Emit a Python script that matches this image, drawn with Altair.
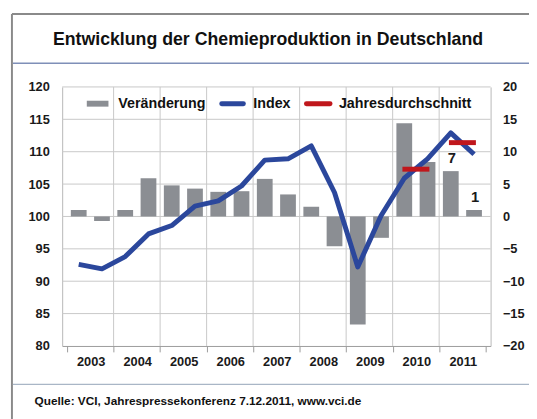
import altair as alt
import pandas as pd

# ---- data ----
years = [2003, 2004, 2005, 2006, 2007, 2008, 2009, 2010, 2011]
halves = ["H1", "H2"]
veraenderung = [1.0, -0.7, 1.0, 5.9, 4.8, 4.3, 3.8, 3.9, 5.8, 3.4, 1.5, -4.6,
                -16.7, -3.3, 14.4, 8.4, 7.0, 1.0]
index_vals = [92.6, 91.9, 93.8, 97.3, 98.6, 101.6, 102.4, 104.7, 108.7, 108.9,
              110.9, 103.7, 92.2, 100.1, 105.9, 108.9, 112.9, 109.6]
avg_years = [2010, 2011]
avg_vals = [107.3, 111.4]
label_years = [2011, 2011]
label_halves = ["H1", "H2"]
label_texts = ["7", "1"]
left_ticks = [80, 85, 90, 95, 100, 105, 110, 115, 120]
right_ticks = [-20, -15, -10, -5, 0, 5, 10, 15, 20]
year_bounds = [2003, 2004, 2005, 2006, 2007, 2008, 2009, 2010, 2011, 2012]

FONT = "Liberation Sans"
W, H = 435, 263

rows = []
i = 0
for y in years:
    for h in halves:
        rows.append({"year": y, "half": h, "pos": y + (0.25 if h == "H1" else 0.75),
                     "chg": veraenderung[i], "idx": index_vals[i]})
        i += 1
df = pd.DataFrame(rows)
avg_df = pd.DataFrame({"year": avg_years, "val": avg_vals})
avg_df["x1"] = avg_df["year"] + 0.21
avg_df["x2"] = avg_df["year"] + 0.79
lab_df = df.merge(pd.DataFrame({"year": label_years, "half": label_halves, "txt": label_texts}),
                  on=["year", "half"])
hgrid_df = pd.DataFrame({"v": [t for t in left_ticks if t > 80]})
vgrid_df = pd.DataFrame({"b": year_bounds[1:-1]})

xscale = alt.Scale(domain=[2003, 2012], nice=False, zero=False)
x_axis = alt.Axis(values=year_bounds, format="d",
                  labelExpr="datum.value == 2012 ? '' : datum.label",
                  labelOffset=24, title=None, grid=False,
                  domainColor="#9a9a9a", tickColor="#9a9a9a", tickSize=6,
                  labelFont=FONT, labelFontSize=13, labelFontWeight="bold",
                  labelColor="#1a1a1a", labelPadding=4, labelOverlap=False)

left_scale = alt.Scale(domain=[80, 120], nice=False, zero=False)
right_scale = alt.Scale(domain=[-20, 20], nice=False, zero=False)

left_axis = alt.Axis(orient="left", values=left_ticks, title=None,
                     grid=False, domainColor="#b8b8b8", ticks=False, labelPadding=13,
                     labelFont=FONT, labelFontSize=13, labelFontWeight="bold",
                     labelColor="#1a1a1a", labelOverlap=False)
right_axis = alt.Axis(orient="right", values=right_ticks, title=None,
                      grid=False, domainColor="#b8b8b8", ticks=False, labelPadding=12,
                      labelFont=FONT, labelFontSize=13, labelFontWeight="bold",
                      labelColor="#1a1a1a", labelOverlap=False)

hgrid = alt.Chart(hgrid_df).mark_rule(color="#c8c8c8", strokeWidth=1).encode(
    y=alt.Y("v:Q", scale=left_scale, axis=None),
    x=alt.value(0), x2=alt.value(W),
)
vgrid = alt.Chart(vgrid_df).mark_rule(color="#c8c8c8", strokeWidth=1).encode(
    x=alt.X("b:Q", scale=xscale, axis=x_axis),
    y=alt.value(0), y2=alt.value(H),
)
line = alt.Chart(df).mark_line(color="#2b479c", strokeWidth=5, strokeJoin="round").encode(
    x=alt.X("pos:Q", scale=xscale, axis=x_axis),
    y=alt.Y("idx:Q", scale=left_scale, axis=left_axis),
)
bars = alt.Chart(df).mark_bar(color="#8b8e93", size=16).encode(
    x=alt.X("pos:Q", scale=xscale, axis=x_axis),
    y=alt.Y("chg:Q", scale=right_scale, axis=right_axis),
    y2=alt.datum(0),
)
avg = alt.Chart(avg_df).mark_rule(color="#c0171c", strokeWidth=5, strokeCap="butt").encode(
    x=alt.X("x1:Q", scale=xscale, axis=x_axis),
    x2="x2:Q",
    y=alt.Y("val:Q", scale=left_scale, axis=None),
)
labels = alt.Chart(lab_df).mark_text(font=FONT, fontSize=15, fontWeight="bold",
                                     color="#1a1a1a", dy=-13, dx=1).encode(
    x=alt.X("pos:Q", scale=xscale, axis=x_axis),
    y=alt.Y("chg:Q", scale=right_scale, axis=None),
    text="txt:N",
)

one = pd.DataFrame({"a": [0]})

def hrule(x1, x2, y, color, w=1.5):
    return alt.Chart(one).mark_rule(color=color, strokeWidth=w).encode(
        x=alt.value(x1), x2=alt.value(x2), y=alt.value(y))

def vrule(x, y1, y2, color, w=1.5):
    return alt.Chart(one).mark_rule(color=color, strokeWidth=w).encode(
        x=alt.value(x), y=alt.value(y1), y2=alt.value(y2))

def txt(s, x, y, size, align="left", weight="bold"):
    return alt.Chart(one).mark_text(text=s, font=FONT, fontSize=size, fontWeight=weight,
                                    align=align, baseline="middle", color="#111111").encode(
        x=alt.value(x), y=alt.value(y))

deco = [
    hrule(-51, 480, -74, "#8a8a8a", 2),
    vrule(-51, -74, 340, "#8a8a8a", 2),
    hrule(-50, 480, -24, "#7f8fb8", 1.5),
    hrule(-50, 480, 302, "#a9b6c6", 1.5),
    txt("Entwicklung  der  Chemieproduktion  in  Deutschland", 209, -48, 18, "center"),
    txt("Quelle: VCI, Jahrespressekonferenz 7.12.2011, www.vci.de", -28, 319, 12),
    # legend
    alt.Chart(one).mark_rect(color="#8b8e93").encode(
        x=alt.value(25), x2=alt.value(47), y=alt.value(14), y2=alt.value(20)),
    txt("Veränderung", 57, 17, 14.5),
    alt.Chart(one).mark_rule(color="#2b479c", strokeWidth=5, strokeCap="round").encode(
        x=alt.value(162), x2=alt.value(184), y=alt.value(17)),
    txt("Index", 194, 17, 14.5),
    alt.Chart(one).mark_rule(color="#c0171c", strokeWidth=5, strokeCap="round").encode(
        x=alt.value(248), x2=alt.value(272), y=alt.value(17)),
    txt("Jahresdurchschnitt", 281, 17, 14.5),
]

chart = alt.layer(hgrid, vgrid, bars, line, avg, labels, *deco).resolve_scale(
    y="independent").properties(
    width=W, height=H,
    autosize=alt.AutoSizeParams(type="none"),
    padding={"left": 55, "top": 77, "right": 39, "bottom": 71},
    background="white",
).configure_view(stroke=None)

chart.save("out.html", embed_options={"renderer": "svg", "actions": False})
